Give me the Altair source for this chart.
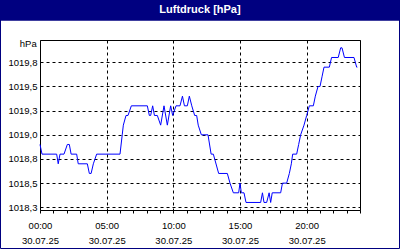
import altair as alt
import pandas as pd

# ---- data ----
times = ["00:00", "00:09", "01:15", "01:22", "01:30", "01:48", "02:03", "02:12", "02:20", "02:45",
         "02:52", "03:33", "03:42", "03:50", "04:00", "04:15", "06:00", "06:10", "06:15", "06:27",
         "06:36", "06:51", "08:03", "08:12", "08:18", "08:27", "08:35", "08:48", "09:03", "09:18",
         "09:33", "09:48", "09:57", "10:12", "10:30", "10:41", "10:50", "11:03", "11:12", "11:23",
         "11:36", "11:45", "11:52", "12:06", "12:36", "12:50", "13:00", "13:24", "14:03", "14:15",
         "14:30", "14:54", "15:00", "15:06", "15:18", "15:27", "16:33", "16:41", "16:48", "17:00",
         "17:11", "17:18", "17:25", "18:03", "18:11", "18:30", "18:42", "18:51", "18:57", "19:15",
         "19:24", "19:33", "19:48", "20:00", "20:12", "20:30", "20:39", "20:51", "21:00", "21:09",
         "21:18", "21:42", "21:52", "22:22", "22:33", "22:39", "22:50", "23:33", "23:45", "23:48"]
pressure = [1018.9, 1018.8, 1018.8, 1018.7, 1018.8, 1018.8, 1018.9, 1018.9, 1018.8, 1018.8,
            1018.7, 1018.7, 1018.6, 1018.6, 1018.7, 1018.8, 1018.8, 1019.0, 1019.1, 1019.2,
            1019.2, 1019.3, 1019.3, 1019.2, 1019.2, 1019.3, 1019.2, 1019.2, 1019.1, 1019.3,
            1019.1, 1019.3, 1019.2, 1019.3, 1019.3, 1019.4, 1019.3, 1019.3, 1019.4, 1019.3,
            1019.2, 1019.2, 1019.1, 1019.0, 1019.0, 1018.8, 1018.8, 1018.6, 1018.6, 1018.5,
            1018.4, 1018.4, 1018.5, 1018.4, 1018.4, 1018.3, 1018.3, 1018.4, 1018.3, 1018.3,
            1018.4, 1018.3, 1018.4, 1018.4, 1018.5, 1018.5, 1018.6, 1018.7, 1018.8, 1018.8,
            1018.9, 1019.0, 1019.1, 1019.2, 1019.3, 1019.3, 1019.4, 1019.5, 1019.5, 1019.6,
            1019.7, 1019.7, 1019.8, 1019.8, 1019.9, 1019.9, 1019.8, 1019.8, 1019.7, 1019.7]
y_ticks = [1018.25, 1018.5, 1018.75, 1019.0, 1019.25, 1019.5, 1019.75]
y_domain = [1018.222, 1019.981]
day = "2025-07-30"
title_text = "Luftdruck [hPa]"
unit_text = "hPa"

df = pd.DataFrame({"t": [f"{day}T{t}:00" for t in times], "p": pressure})

FONT = "Liberation Sans"
NAVY = "#000080"

x_vals = [alt.DateTime(year=2025, month=7, date=30, hours=h) for h in range(24)] + \
         [alt.DateTime(year=2025, month=7, date=31, hours=0)]

x_axis = alt.Axis(
    values=x_vals,
    title=None,
    domain=False,
    ticks=True, tickSize=3, tickColor="black", tickWidth=1,
    grid=True, gridColor="black", gridDash=[3, 3], gridWidth=1,
    gridOpacity={"condition": {"test": "hours(datum.value) % 5 == 0", "value": 1}, "value": 0},
    labelExpr="hours(datum.value) % 5 == 0 && date(datum.value) == 30 ? "
              "[timeFormat(datum.value, '%H:%M'), timeFormat(datum.value, '%d.%m.%y')] : ''",
    labelFont=FONT, labelFontSize=9.5, labelColor="black",
    labelPadding=7, labelLineHeight=15, labelOverlap=False, labelFlush=False,
)

y_axis = alt.Axis(
    values=y_ticks,
    title=None,
    domain=False,
    ticks=False,
    grid=True, gridColor="black", gridDash=[3, 3], gridWidth=1,
    labelExpr="replace(format(datum.value, '.1f'), '.', ',')",
    labelFont=FONT, labelFontSize=9.5, labelColor="black",
    labelPadding=3, labelOverlap=False, labelFlush=False,
)

line = alt.Chart(df).mark_line(color="#0000ff", strokeWidth=1, clip=False).encode(
    x=alt.X("t:T", axis=x_axis,
            scale=alt.Scale(domain=[alt.DateTime(year=2025, month=7, date=30, hours=0),
                                    alt.DateTime(year=2025, month=7, date=31, hours=0)])),
    y=alt.Y("p:Q", axis=y_axis, scale=alt.Scale(domain=y_domain, nice=False, zero=False)),
)

one = pd.DataFrame({"a": [0]})

bar = alt.Chart(one).mark_rect(color=NAVY).encode(
    x=alt.value(-40), x2=alt.value(360), y=alt.value(-40), y2=alt.value(-19.3)
)
frame = alt.Chart(one).mark_rect(fill=None, stroke=NAVY, strokeWidth=1).encode(
    x=alt.value(-39.5), x2=alt.value(359.5), y=alt.value(-39.5), y2=alt.value(208.5)
)
title = alt.Chart(one).mark_text(
    text=title_text, color="white", font=FONT, fontSize=11, fontWeight="bold",
    align="center", baseline="alphabetic"
).encode(x=alt.value(160), y=alt.value(-27.5))
unit = alt.Chart(one).mark_text(
    text=unit_text, color="black", font=FONT, fontSize=9.5,
    align="right", baseline="alphabetic"
).encode(x=alt.value(-3.3), y=alt.value(6.7))

chart = alt.layer(bar, frame, line, title, unit).properties(
    width=320, height=170,
    padding={"left": 40, "top": 40, "right": 40, "bottom": 40},
    autosize="none",
    background="white",
).configure_view(stroke="black", strokeWidth=1)

chart.save("out.html", embed_options={"renderer": "svg", "actions": False})
